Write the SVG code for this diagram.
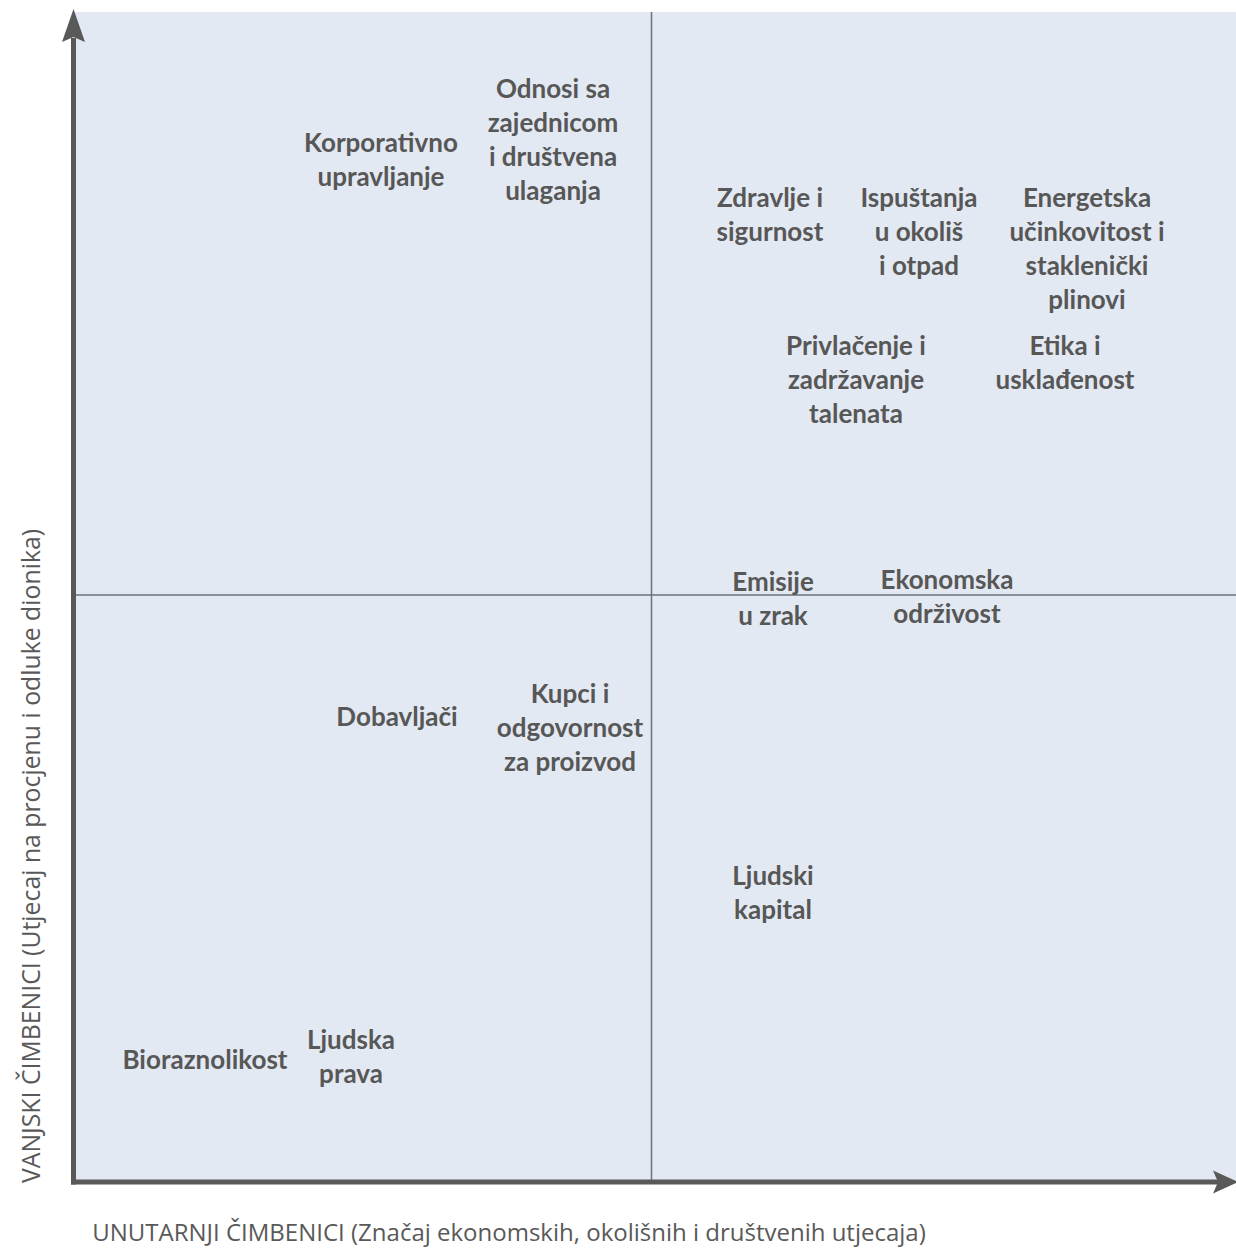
<svg xmlns="http://www.w3.org/2000/svg" width="1236" height="1249" viewBox="0 0 1236 1249">
<style>
  .lbl { font-family: Lato, "Open Sans", "Liberation Sans", sans-serif; font-weight: 700; font-size: 26px; fill: #575757; text-anchor: middle; }
  .axlbl { font-family: "Open Sans", "Liberation Sans", sans-serif; font-weight: 400; font-size: 24px; fill: #595959; text-anchor: middle; }
  .quad { stroke: #6d7278; stroke-width: 1.5; fill: none; }
  .axis { stroke: #595959; stroke-width: 5; fill: none; }
  .head { fill: #595959; }
</style>
<rect x="0" y="0" width="1236" height="1249" fill="#ffffff"/>
<rect x="73" y="12" width="1163" height="1170" fill="#e3e9f2"/>
<g id="connectors">
  <line class="quad" x1="651.5" y1="12" x2="651.5" y2="1180"/>
  <line class="quad" x1="75" y1="595" x2="1236" y2="595"/>
  <line class="axis" x1="73.5" y1="1184.5" x2="73.5" y2="38"/>
  <polygon class="head" points="73.5,9 85,42 73.5,37 62,42"/>
  <line class="axis" x1="71" y1="1182" x2="1220" y2="1182"/>
  <polygon class="head" points="1238,1182 1213,1193.5 1218,1182 1213,1170.5"/>
</g>
<g id="axis-x-label"><text class="axlbl" x="509" y="1241">UNUTARNJI ČIMBENICI (Značaj ekonomskih, okolišnih i društvenih utjecaja)</text></g>
<g id="axis-y-label"><text class="axlbl" style="font-size:24.8px" transform="translate(40,856) rotate(-90)" x="0" y="0">VANJSKI ČIMBENICI (Utjecaj na procjenu i odluke dionika)</text></g>
<g id="n-korporativno"><text class="lbl" x="381"><tspan x="381" y="152">Korporativno</tspan><tspan x="381" y="186">upravljanje</tspan></text></g>
<g id="n-odnosi"><text class="lbl"><tspan x="553" y="98">Odnosi sa</tspan><tspan x="553" y="132">zajednicom</tspan><tspan x="553" y="166">i društvena</tspan><tspan x="553" y="200">ulaganja</tspan></text></g>
<g id="n-zdravlje"><text class="lbl"><tspan x="770" y="207">Zdravlje i</tspan><tspan x="770" y="241">sigurnost</tspan></text></g>
<g id="n-ispustanja"><text class="lbl"><tspan x="919" y="207">Ispuštanja</tspan><tspan x="919" y="241">u okoliš</tspan><tspan x="919" y="275">i otpad</tspan></text></g>
<g id="n-energetska"><text class="lbl"><tspan x="1087" y="207">Energetska</tspan><tspan x="1087" y="241">učinkovitost i</tspan><tspan x="1087" y="275">staklenički</tspan><tspan x="1087" y="309">plinovi</tspan></text></g>
<g id="n-privlacenje"><text class="lbl"><tspan x="856" y="355">Privlačenje i</tspan><tspan x="856" y="389">zadržavanje</tspan><tspan x="856" y="423">talenata</tspan></text></g>
<g id="n-etika"><text class="lbl"><tspan x="1065" y="355">Etika i</tspan><tspan x="1065" y="389">usklađenost</tspan></text></g>
<g id="n-emisije"><text class="lbl"><tspan x="773" y="591">Emisije</tspan><tspan x="773" y="625">u zrak</tspan></text></g>
<g id="n-ekonomska"><text class="lbl"><tspan x="947" y="589">Ekonomska</tspan><tspan x="947" y="623">održivost</tspan></text></g>
<g id="n-dobavljaci"><text class="lbl" x="397" y="726">Dobavljači</text></g>
<g id="n-kupci"><text class="lbl"><tspan x="570" y="703">Kupci i</tspan><tspan x="570" y="737">odgovornost</tspan><tspan x="570" y="771">za proizvod</tspan></text></g>
<g id="n-ljudski-kapital"><text class="lbl"><tspan x="773" y="885">Ljudski</tspan><tspan x="773" y="919">kapital</tspan></text></g>
<g id="n-bioraznolikost"><text class="lbl" x="205" y="1069">Bioraznolikost</text></g>
<g id="n-ljudska-prava"><text class="lbl"><tspan x="351" y="1049">Ljudska</tspan><tspan x="351" y="1083">prava</tspan></text></g>
</svg>
